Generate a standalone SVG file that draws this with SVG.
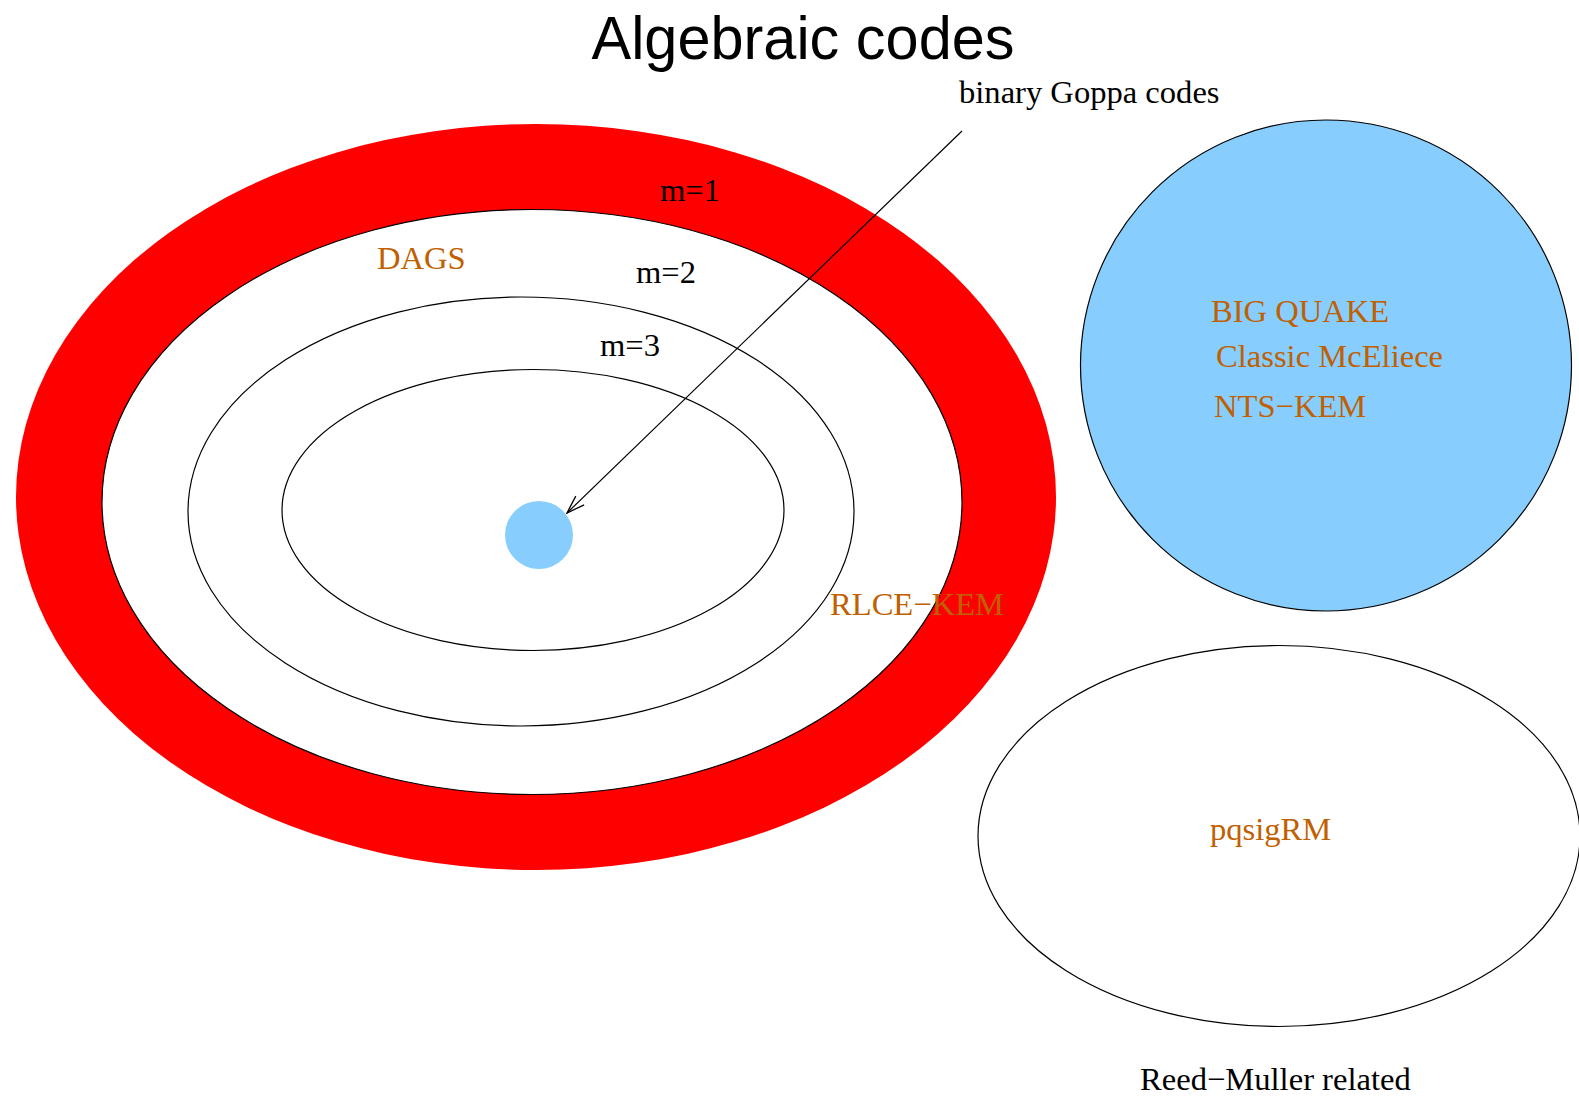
<svg xmlns="http://www.w3.org/2000/svg" width="1579" height="1096" viewBox="0 0 1579 1096">
<defs>
<marker id="open" markerWidth="20" markerHeight="14" refX="19" refY="7" orient="auto" markerUnits="userSpaceOnUse">
<path d="M1,1 L19,7 L1,13" fill="none" stroke="#000" stroke-width="1.3"/>
</marker>
<style>
.t{font-family:"Liberation Serif","Times New Roman",serif;font-size:32.6px;fill:#000}
.o{font-family:"Liberation Serif","Times New Roman",serif;font-size:32.6px;fill:#c06000}
.ln{fill:none;stroke:#000;stroke-width:1.2}
</style>
</defs>
<rect width="1579" height="1096" fill="#fff"/>
<text x="803" y="59" font-family="Liberation Sans, Arial, sans-serif" font-size="61" text-anchor="middle" textLength="423" lengthAdjust="spacingAndGlyphs">Algebraic codes</text>
<g id="algebraic">
<ellipse id="m1ring" cx="536" cy="497" rx="520" ry="373" fill="#ff0000"/>
<ellipse id="m1" cx="532" cy="502" rx="430" ry="292.5" fill="#fff" stroke="#000" stroke-width="1.2"/>
<ellipse id="m2" cx="521" cy="511.5" rx="333" ry="214.5" class="ln"/>
<ellipse id="m3" cx="533" cy="510" rx="251" ry="140.5" class="ln"/>
<circle id="goppa" cx="539" cy="535" r="34" fill="#87ceff"/>
<text class="t" x="660" y="201">m=1</text>
<text class="t" x="636" y="283">m=2</text>
<text class="t" x="600" y="356">m=3</text>
<text class="o" x="377" y="269">DAGS</text>
<text class="o" x="830" y="615">RLCE−KEM</text>
</g>
<g id="goppa-set">
<circle cx="1326" cy="365.5" r="245.5" fill="#87ceff" stroke="#000" stroke-width="1.2"/>
<text class="o" x="1211" y="322">BIG QUAKE</text>
<text class="o" x="1216" y="367">Classic McEliece</text>
<text class="o" x="1214" y="417">NTS−KEM</text>
</g>
<g id="reed-muller">
<ellipse cx="1279" cy="836" rx="301" ry="190.5" class="ln"/>
<text class="o" x="1210" y="840">pqsigRM</text>
<text class="t" x="1140" y="1090">Reed−Muller related</text>
</g>
<g id="connectors">
<line x1="962" y1="131" x2="567" y2="513" stroke="#000" stroke-width="1.2" marker-end="url(#open)"/>
<text class="t" x="959" y="103">binary Goppa codes</text>
</g>
</svg>
